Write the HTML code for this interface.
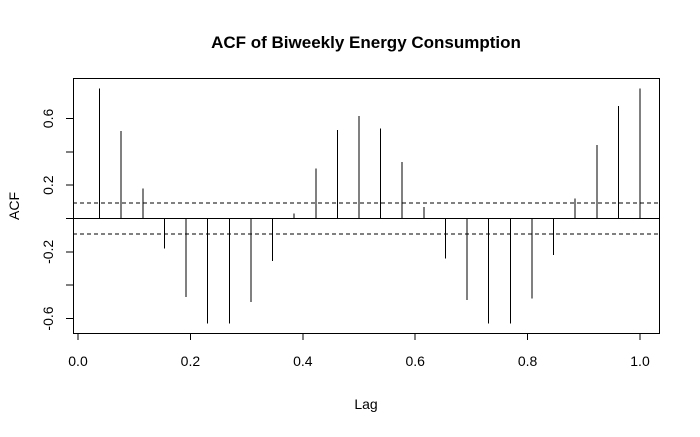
<!DOCTYPE html>
<html><head><meta charset="utf-8"><style>
body{margin:0;background:#fff}
svg{font-family:"Liberation Sans",Arial,sans-serif}
line,rect{shape-rendering:crispEdges}
</style></head><body>
<svg id="chart" width="700" height="432">
<text x="366" y="48" text-anchor="middle" font-size="17" font-weight="bold">ACF of Biweekly Energy Consumption</text>
<text x="366" y="409" text-anchor="middle" font-size="14">Lag</text>
<text transform="translate(19,206) rotate(-90)" text-anchor="middle" font-size="14">ACF</text>
<rect x="73.5" y="78.5" width="586" height="255" fill="none" stroke="#000"/>
<g id="marks"></g>
</svg>
<script>
const acfValues=[0.78,0.525,0.18,-0.18,-0.47,-0.63,-0.63,-0.50,-0.255,0.03,0.30,0.53,0.615,0.54,0.34,0.07,-0.24,-0.49,-0.63,-0.63,-0.48,-0.22,0.12,0.44,0.675,0.78];
const xTicks=[0,0.2,0.4,0.6,0.8,1.0];
const xTickLabels=["0.0","0.2","0.4","0.6","0.8","1.0"];
const yTicks=[-0.6,-0.4,-0.2,0,0.2,0.4,0.6];
const yTickLabels=["-0.6","","-0.2","","0.2","","0.6"];
const confLimit=0.093;
const freq=26;
const NS="http://www.w3.org/2000/svg";
const g=document.getElementById('marks');
const xs=v=>78+v*562;
const ys=v=>218.5-v*166.7;
function mk(t,a){const e=document.createElementNS(NS,t);for(const k in a)e.setAttribute(k,a[k]);g.appendChild(e);return e;}
xTicks.forEach((v,i)=>{
 const l=mk('line',{x1:xs(v),x2:xs(v),y1:333,y2:340,stroke:'#000'});
 
 
 const t=mk('text',{x:xs(v),y:366,'text-anchor':'middle','font-size':14});
 t.textContent=xTickLabels[i];
 
 
});
yTicks.forEach((v,i)=>{
 const l=mk('line',{x1:66,x2:73,y1:ys(v),y2:ys(v),stroke:'#000'});
 
 
 if(yTickLabels[i]){
  const t=mk('text',{transform:`translate(53,${ys(v)}) rotate(-90)`,'text-anchor':'middle','font-size':14});
  t.textContent=yTickLabels[i];
  
  
 }
});
const z=mk('line',{x1:73,x2:659,y1:ys(0),y2:ys(0),stroke:'#000'});


[confLimit,-confLimit].forEach(c=>{
 const l=mk('line',{x1:73,x2:659,y1:ys(c),y2:ys(c),stroke:'#000','stroke-dasharray':'4,3'});
 
 
});
acfValues.forEach((v,i)=>{
 const x=xs((i+1)/freq);
 const l=mk('line',{x1:x,x2:x,y1:ys(0),y2:ys(v),stroke:'#000'});
 
 
});
</script>
</body></html>
